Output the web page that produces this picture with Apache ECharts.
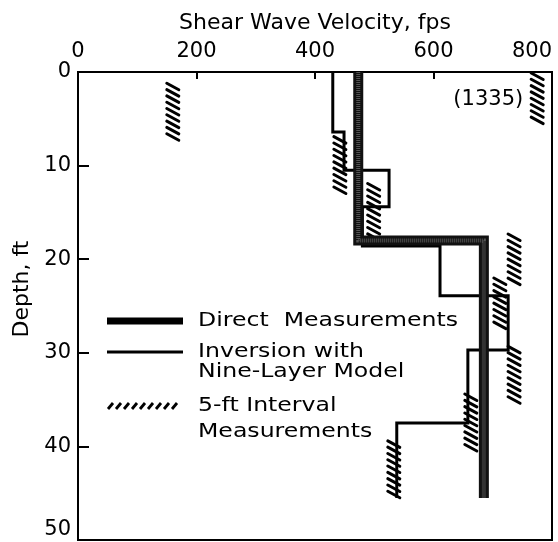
<!DOCTYPE html>
<html>
<head>
<meta charset="utf-8">
<title>Shear Wave Velocity</title>
<script src="https://cdn.jsdelivr.net/npm/echarts@6/dist/echarts.min.js"></script>
<style>
  html, body { margin: 0; padding: 0; background: #fff; }
  #chart { width: 558px; height: 542px; }
</style>
</head>
<body>
<div id="chart"></div>
<script>
// axes
const velocityTicks = [0, 200, 400, 600, 800];   // fps
const depthTicks = [0, 10, 20, 30, 40, 50];      // ft

// direct measurements: layer velocity + layer boundaries
const directVel = [473, 685];
const directDepth = [0, 18, 45.5];

// inversion with nine-layer model
const invVel = [430, 449, 525, 480, 611, 726, 658, 538];
const invDepth = [0, 6.4, 10.5, 14.4, 18.6, 23.9, 29.7, 37.5, 45.5];

// 5-ft interval measurements (velocity, top, bottom)
const intervalVel = [160, 1335, 442, 499, 736, 712, 736, 663, 533];
const intervalTop = [1.1, 0, 6.8, 11.8, 17.2, 21.9, 29.2, 34.3, 39.3];
const intervalBottom = [7.2, 5.7, 12.9, 18.0, 22.8, 27.9, 35.4, 40.6, 45.7];

const FONT = 'DejaVu Sans';
const velMax = velocityTicks[velocityTicks.length - 1];
const offScaleAt = 775; // where off-scale values get drawn

// step profile -> polyline points
const stepPoints = (vel, depth) => {
    const pts = [];
    vel.forEach((v, i) => {
        pts.push([v, depth[i]], [v, depth[i + 1]]);
    });
    return pts;
};

// hatched 5-ft bar
const renderHatch = (params, api) => {
    const raw = api.value(3);
    const p1 = api.coord([api.value(0), api.value(1)]);
    const p2 = api.coord([api.value(0), api.value(2)]);
    const x = p1[0];
    const children = [];
    for (let y = p1[1] + 1; y + 5 <= p2[1]; y += 6.3) {
        children.push({
            type: 'line',
            shape: { x1: x - 6, y1: y, x2: x + 6, y2: y + 6.5 },
            style: { stroke: '#000', lineWidth: 3, lineCap: 'round' }
        });
    }
    if (raw > velMax) {
        children.push({
            type: 'text',
            style: {
                text: '(' + raw + ')', x: x - 14, y: p1[1] + 28,
                align: 'right', verticalAlign: 'middle',
                font: '21px "' + FONT + '"', fill: '#000'
            }
        });
    }
    return { type: 'group', children };
};

// legend drawn by hand (line samples + hatch sample)
const legendHatch = [];
for (let x = 108; x <= 176; x += 8) {
    legendHatch.push({
        type: 'line',
        shape: { x1: x, y1: 409, x2: x + 5, y2: 403 },
        style: { stroke: '#000', lineWidth: 2.8 }
    });
}
const legendText = (text, y) => ({
    type: 'text', x: 198, y: y, scaleX: 1.18,
    style: { text: text, font: '20px "' + FONT + '"', fill: '#000', verticalAlign: 'middle' }
});

const chart = echarts.init(document.getElementById('chart'));
chart.setOption({
    animation: false,
    grid: { left: 78, right: 6, top: 72, bottom: 2, show: true, borderColor: '#000', borderWidth: 2 },
    xAxis: {
        type: 'value', position: 'top',
        min: velocityTicks[0], max: velMax, interval: 200,
        name: 'Shear Wave Velocity, fps', nameLocation: 'middle', nameGap: 38,
        nameTextStyle: { fontFamily: FONT, fontSize: 22, color: '#000' },
        axisLine: { lineStyle: { color: '#000', width: 2 } },
        axisTick: { inside: true, length: 7, lineStyle: { color: '#000', width: 2 } },
        axisLabel: { fontFamily: FONT, fontSize: 21, color: '#000', margin: 10, alignMaxLabel: 'right' },
        splitLine: { show: false }
    },
    yAxis: {
        type: 'value', inverse: true,
        min: depthTicks[0], max: depthTicks[depthTicks.length - 1], interval: 10,
        name: 'Depth, ft', nameLocation: 'middle', nameGap: 24,
        nameTextStyle: { fontFamily: FONT, fontSize: 22, color: '#000', padding: [0, 0, 0, 34] },
        axisLine: { lineStyle: { color: '#000', width: 2 } },
        axisTick: { inside: true, length: 11, lineStyle: { color: '#000', width: 2 } },
        axisLabel: { fontFamily: FONT, fontSize: 21, color: '#000', margin: 7, verticalAlignMaxLabel: 'bottom' },
        splitLine: { show: false }
    },
    series: [
        {
            name: '5-ft Interval Measurements',
            type: 'custom',
            renderItem: renderHatch,
            encode: { x: 0, y: [1, 2] },
            clip: false,
            z: 1,
            data: intervalVel.map((v, i) => [Math.min(v, offScaleAt), intervalTop[i], intervalBottom[i], v])
        },
        {
            name: 'Inversion with Nine-Layer Model',
            type: 'line',
            showSymbol: false,
            z: 2,
            lineStyle: { color: '#000', width: 3, join: 'miter' },
            data: stepPoints(invVel, invDepth)
        },
        {
            name: 'Direct Measurements',
            type: 'line',
            showSymbol: false,
            z: 3,
            lineStyle: { color: '#111', width: 10, join: 'miter' },
            data: stepPoints(directVel, directDepth)
        },
        {
            // stippled grey core of the thick line
            name: 'Direct Measurements',
            type: 'line',
            showSymbol: false,
            z: 4,
            lineStyle: { color: '#555', width: 4, type: [1, 1], join: 'miter' },
            data: stepPoints(directVel, directDepth)
        }
    ],
    graphic: [
        { type: 'line', shape: { x1: 107, y1: 321, x2: 183, y2: 321 }, style: { stroke: '#000', lineWidth: 7 } },
        { type: 'line', shape: { x1: 107, y1: 352, x2: 183, y2: 352 }, style: { stroke: '#000', lineWidth: 3 } },
        { type: 'group', children: legendHatch },
        legendText('Direct  Measurements', 321),
        legendText('Inversion with', 352),
        legendText('Nine-Layer Model', 372),
        legendText('5-ft Interval', 406),
        legendText('Measurements', 432)
    ]
});
</script>
</body>
</html>
